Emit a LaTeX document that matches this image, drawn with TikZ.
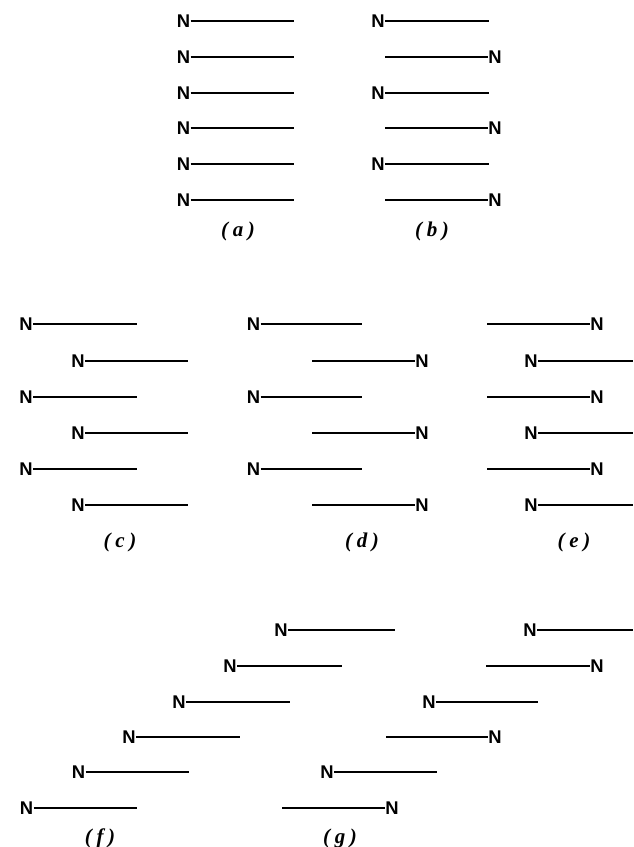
\documentclass[tikz,border=0pt]{standalone}
\usepackage{fontspec}
\setmainfont{Liberation Sans}
\newfontfamily\capfont{Liberation Serif}
\begin{document}
\begin{tikzpicture}[x=0.5pt,y=-0.5pt,
  atom/.style={inner sep=0pt,font=\fontsize{9.2}{10}\selectfont\bfseries},
  chain/.style={line width=0.75pt},
  caption/.style={inner sep=0pt,font=\capfont\fontsize{10.5}{12}\selectfont\bfseries\itshape}]
\useasboundingbox (0,0) rectangle (633,847);
% chain with the N atom at its left end: name, N x, far end x, y
\newcommand{\leftchain}[4]{%
  \node[atom] (#1) at (#2,#4) {N};
  \coordinate (#1-end) at (#3,#4);
  \draw[chain] (#1.east) -- (#1-end);}
% chain with the N atom at its right end: name, free end x, N x, y
\newcommand{\rightchain}[4]{%
  \node[atom] (#1) at (#3,#4) {N};
  \coordinate (#1-end) at (#2,#4);
  \draw[chain] (#1-end) -- (#1.west);}
% spaced caption letter in parentheses
\newcommand{\caplabel}[1]{(\hspace{0.22em}#1\hspace{0.22em})}

% (a) all parallel
\leftchain{a1}{183.5}{294}{21}
\leftchain{a2}{183.5}{294}{57}
\leftchain{a3}{183.5}{294}{93}
\leftchain{a4}{183.5}{294}{128}
\leftchain{a5}{183.5}{294}{164}
\leftchain{a6}{183.5}{294}{200}
\node[caption] (capa) at (238,231) {\caplabel{a}};

% (b) antiparallel
\leftchain{b1}{378}{489}{21}
\rightchain{b2}{385}{495}{57}
\leftchain{b3}{378}{489}{93}
\rightchain{b4}{385}{495}{128}
\leftchain{b5}{378}{489}{164}
\rightchain{b6}{385}{495}{200}
\node[caption] (capb) at (432,231) {\caplabel{b}};

% (c) parallel, staggered
\leftchain{c1}{26}{137}{324}
\leftchain{c2}{78}{188}{361}
\leftchain{c3}{26}{137}{397}
\leftchain{c4}{78}{188}{433}
\leftchain{c5}{26}{137}{469}
\leftchain{c6}{78}{188}{505}
\node[caption] (capc) at (120,542) {\caplabel{c}};

% (d) antiparallel, staggered
\leftchain{d1}{253.5}{362}{324}
\rightchain{d2}{312}{422}{361}
\leftchain{d3}{253.5}{362}{397}
\rightchain{d4}{312}{422}{433}
\leftchain{d5}{253.5}{362}{469}
\rightchain{d6}{312}{422}{505}
\node[caption] (capd) at (362,542) {\caplabel{d}};

% (e) antiparallel, staggered the other way
\rightchain{e1}{487}{597}{324}
\leftchain{e2}{531}{633}{361}
\rightchain{e3}{487}{597}{397}
\leftchain{e4}{531}{633}{433}
\rightchain{e5}{487}{597}{469}
\leftchain{e6}{531}{633}{505}
\node[caption] (cape) at (574,542) {\caplabel{e}};

% (f) parallel, sheared
\leftchain{f1}{281}{395}{630}
\leftchain{f2}{230}{342}{666}
\leftchain{f3}{179}{290}{702}
\leftchain{f4}{129}{240}{737}
\leftchain{f5}{78.5}{189}{772}
\leftchain{f6}{26.5}{137}{808}
\node[caption] (capf) at (100,838) {\caplabel{f}};

% (g) antiparallel, sheared
\leftchain{g1}{530}{633}{630}
\rightchain{g2}{486}{597}{666}
\leftchain{g3}{429}{538}{702}
\rightchain{g4}{386}{495}{737}
\leftchain{g5}{327}{437}{772}
\rightchain{g6}{282}{392}{808}
\node[caption] (capg) at (340,838) {\caplabel{g}};
\end{tikzpicture}
\end{document}
